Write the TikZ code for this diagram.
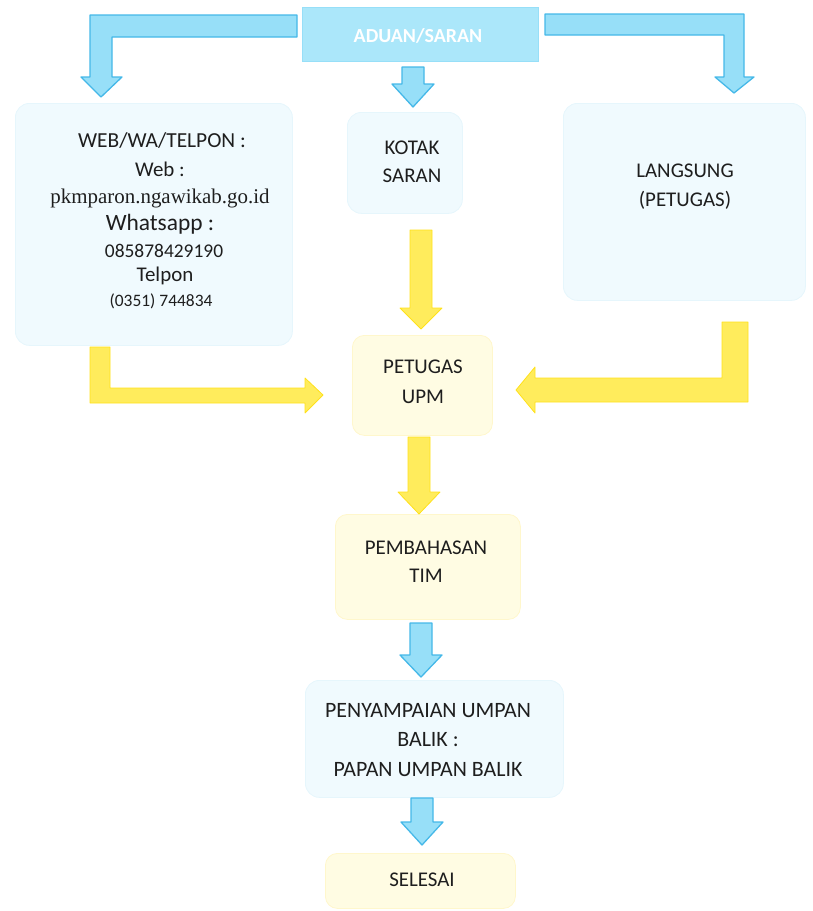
\documentclass[tikz,border=0pt]{standalone}
\usepackage{fontspec}
\setmainfont{Carlito}
\newfontfamily\urlfont{Liberation Serif}
\definecolor{arrowblue}{HTML}{97DFF8}
\definecolor{arrowblueedge}{HTML}{45B8E8}
\definecolor{topfill}{HTML}{ABE7FA}
\definecolor{paleblue}{HTML}{F0FAFE}
\definecolor{paleblueedge}{HTML}{E6F6FC}
\definecolor{arrowyellow}{HTML}{FFEC5C}
\definecolor{arrowyellowedge}{HTML}{FFE11A}
\definecolor{paleyellow}{HTML}{FFFCE3}
\definecolor{paleyellowedge}{HTML}{FFF7CC}
\definecolor{ink}{HTML}{1E1E1E}
% vertical block arrow: [style]{centre x}{top}{head base}{tip}
\newcommand\downblock[5][]{%
  \path[#1] (#2-11,#3) -- (#2+11,#3) -- (#2+11,#4) -- (#2+21,#4) -- (#2,#5)
    -- (#2-21,#4) -- (#2-11,#4) -- cycle;}
\begin{document}
\begin{tikzpicture}[x=1bp,y=-1bp,
  bluearrow/.style={fill=arrowblue,draw=arrowblueedge,line width=1.3bp,line join=round},
  yellowarrow/.style={fill=arrowyellow,draw=arrowyellowedge,line width=0.8bp,line join=round},
  bluebox/.style={fill=paleblue,draw=paleblueedge,line width=0.8bp,rounded corners=14bp,
    anchor=north west,inner sep=0pt},
  yellowbox/.style={fill=paleyellow,draw=paleyellowedge,line width=0.8bp,rounded corners=12bp,
    anchor=north west,inner sep=0pt},
  txt/.style={text=ink,align=center,inner sep=0pt,font=\fontsize{21}{29}\selectfont},
]
\useasboundingbox (0,0) rectangle (813,911);

% boxes
\node[fill=topfill,draw=arrowblue,line width=1bp,anchor=north west,inner sep=0pt,
  minimum width=236bp,minimum height=54bp] (aduan) at (302,7) {};
\node[bluebox,minimum width=277bp,minimum height=242bp] (web) at (15,103) {};
\node[bluebox,minimum width=115bp,minimum height=101bp] (kotak) at (347,112) {};
\node[bluebox,minimum width=242bp,minimum height=197bp] (langsung) at (563,103) {};
\node[yellowbox,minimum width=140bp,minimum height=100bp] (petugas) at (352,335) {};
\node[yellowbox,minimum width=185bp,minimum height=105bp] (bahas) at (335,514) {};
\node[bluebox,minimum width=258bp,minimum height=117bp] (umpan) at (305,680) {};
\node[yellowbox,minimum width=190bp,minimum height=55bp] (selesai) at (325,853) {};

% labels
\node[txt,text=white,font=\bfseries\fontsize{20}{24}\selectfont] (aduan-t) at (418,36) {ADUAN/SARAN};
\node[txt,font=\fontsize{21.5}{26}\selectfont] (web-t1) at (162,141) {WEB/WA/TELPON :};
\node[txt] (web-t2) at (160,169) {Web :};
\node[txt,font=\urlfont\fontsize{21}{24}\selectfont] (web-t3) at (160,198) {pkmparon.ngawikab.go.id};
\node[txt,font=\fontsize{23.5}{27}\selectfont] (web-t4) at (160,224) {Whatsapp :};
\node[txt,font=\fontsize{19.5}{24}\selectfont] (web-t5) at (164,251) {085878429190};
\node[txt,font=\fontsize{21}{26}\selectfont] (web-t6) at (165,276) {Telpon};
\node[txt,font=\fontsize{17.5}{21}\selectfont] (web-t7) at (161,301) {(0351) 744834};
\node[txt,font=\fontsize{21}{28}\selectfont] (kotak-t) at (412,162) {KOTAK\\SARAN};
\node[txt,font=\fontsize{21}{29}\selectfont] (langsung-t) at (685,187) {LANGSUNG\\(PETUGAS)};
\node[txt,font=\fontsize{21}{30}\selectfont] (petugas-t) at (423,382) {PETUGAS\\UPM};
\node[txt,font=\fontsize{21}{28}\selectfont] (bahas-t) at (426,562) {PEMBAHASAN\\TIM};
\node[txt,font=\fontsize{22}{30}\selectfont] (umpan-t) at (428,740) {PENYAMPAIAN UMPAN\\BALIK :\\PAPAN UMPAN BALIK};
\node[txt] (selesai-t) at (422,880) {SELESAI};

% blue arrows from the top box
\path[bluearrow] (297,15) -- (90,15) -- (90,77) -- (81,77) -- (101,97) -- (122,77)
  -- (112,77) -- (112,37) -- (297,37) -- cycle;
\path[bluearrow] (545,14) -- (744,14) -- (744,77) -- (754,77) -- (734,93) -- (715,77)
  -- (724,77) -- (724,35) -- (545,35) -- cycle;
\downblock[bluearrow]{413}{67}{84}{107}

% yellow arrows into PETUGAS UPM
\downblock[yellowarrow]{421}{230}{308}{329}
\path[yellowarrow] (90,347) -- (110,347) -- (110,388) -- (305,388) -- (305,378)
  -- (323,395) -- (305,413) -- (305,403) -- (90,403) -- cycle;
\path[yellowarrow] (748,322) -- (722,322) -- (722,378) -- (535,378) -- (535,367)
  -- (516,390) -- (535,413) -- (535,402) -- (748,402) -- cycle;

% lower chain
\downblock[yellowarrow]{419}{437}{492}{514}
\downblock[bluearrow]{421}{623}{655}{677}
\downblock[bluearrow]{422}{798}{822}{845}
\end{tikzpicture}
\end{document}
